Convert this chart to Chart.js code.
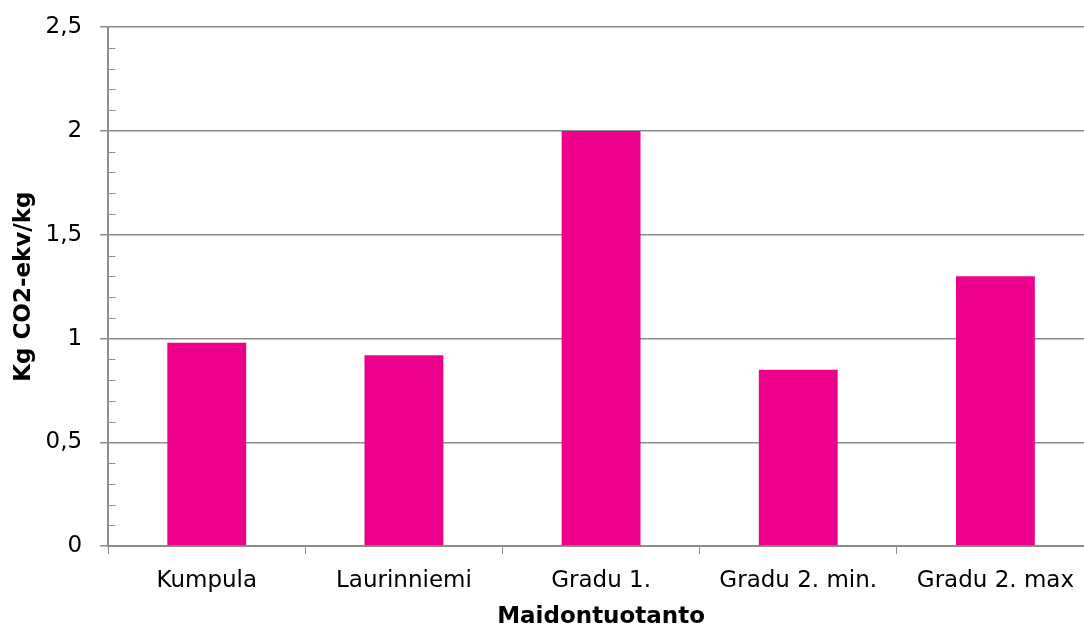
<!DOCTYPE html>
<html>
<head>
<meta charset="utf-8">
<script src="https://cdn.jsdelivr.net/npm/chart.js@4"></script>
<style>
  html, body { margin: 0; padding: 0; background: #fff; overflow: hidden; }
  #wrap { width: 1096px; height: 630px; }
</style>
</head>
<body>
<div id="wrap"><canvas id="chart"></canvas></div>
<script>
const categories = ["Kumpula", "Laurinniemi", "Gradu 1.", "Gradu 2. min.", "Gradu 2. max"];
const values = [0.98, 0.92, 2.0, 0.85, 1.3];
const yMax = 2.5;
const yMajorStep = 0.5;
const yMinorStep = 0.1;

const FONT = "'DejaVu Sans', Verdana, sans-serif";
const GRID = "#8c8c8c";

const isMajor = (v) => Math.abs(v / yMajorStep - Math.round(v / yMajorStep)) < 1e-6;

// small inner ticks on the value axis
const minorTicks = {
  id: "minorTicks",
  afterDraw(chart) {
    const y = chart.scales.y;
    const ctx = chart.ctx;
    ctx.save();
    ctx.strokeStyle = GRID;
    ctx.lineWidth = 1;
    for (let v = 0; v <= yMax + 1e-9; v += yMinorStep) {
      if (isMajor(v)) continue;
      const py = Math.round(y.getPixelForValue(v)) + 0.5;
      ctx.beginPath();
      ctx.moveTo(y.right, py);
      ctx.lineTo(y.right + 7, py);
      ctx.stroke();
    }
    ctx.restore();
  }
};

new Chart(document.getElementById("chart"), {
  type: "bar",
  data: {
    labels: categories,
    datasets: [{
      data: values,
      backgroundColor: "#ec008c",
      categoryPercentage: 1,
      barPercentage: 0.4
    }]
  },
  options: {
    responsive: true,
    maintainAspectRatio: false,
    animation: false,
    layout: { padding: { top: 0, right: 2, left: 0, bottom: 0 } },
    plugins: { legend: { display: false }, tooltip: { enabled: false } },
    scales: {
      x: {
        grid: { drawOnChartArea: false, offset: true, color: GRID, tickLength: 8 },
        border: { color: GRID, width: 2 },
        ticks: { color: "#000", font: { family: FONT, size: 23 }, padding: 13, maxRotation: 0 },
        title: { display: true, text: "Maidontuotanto", color: "#000", font: { family: FONT, size: 23, weight: "bold", lineHeight: 1.1 }, padding: { top: -3, bottom: 0 } }
      },
      y: {
        min: 0,
        max: yMax,
        grid: {
          color: (c) => isMajor(c.tick.value) ? GRID : "rgba(0,0,0,0)",
          tickColor: (c) => isMajor(c.tick.value) ? GRID : "rgba(0,0,0,0)",
          tickLength: 8,
          lineWidth: 1.5
        },
        border: { color: GRID, width: 2 },
        ticks: {
          stepSize: yMinorStep,
          autoSkip: false,
          color: "#000",
          padding: 18,
          font: { family: FONT, size: 23, lineHeight: 0.8 },
          callback: (v) => isMajor(v) ? String(Math.round(v * 10) / 10).replace(".", ",") : ""
        },
        title: { display: true, text: "Kg CO2-ekv/kg", color: "#000", font: { family: FONT, size: 23, weight: "bold" }, padding: { top: 10, bottom: -10 } }
      }
    }
  },
  plugins: [minorTicks]
});
</script>
</body>
</html>
